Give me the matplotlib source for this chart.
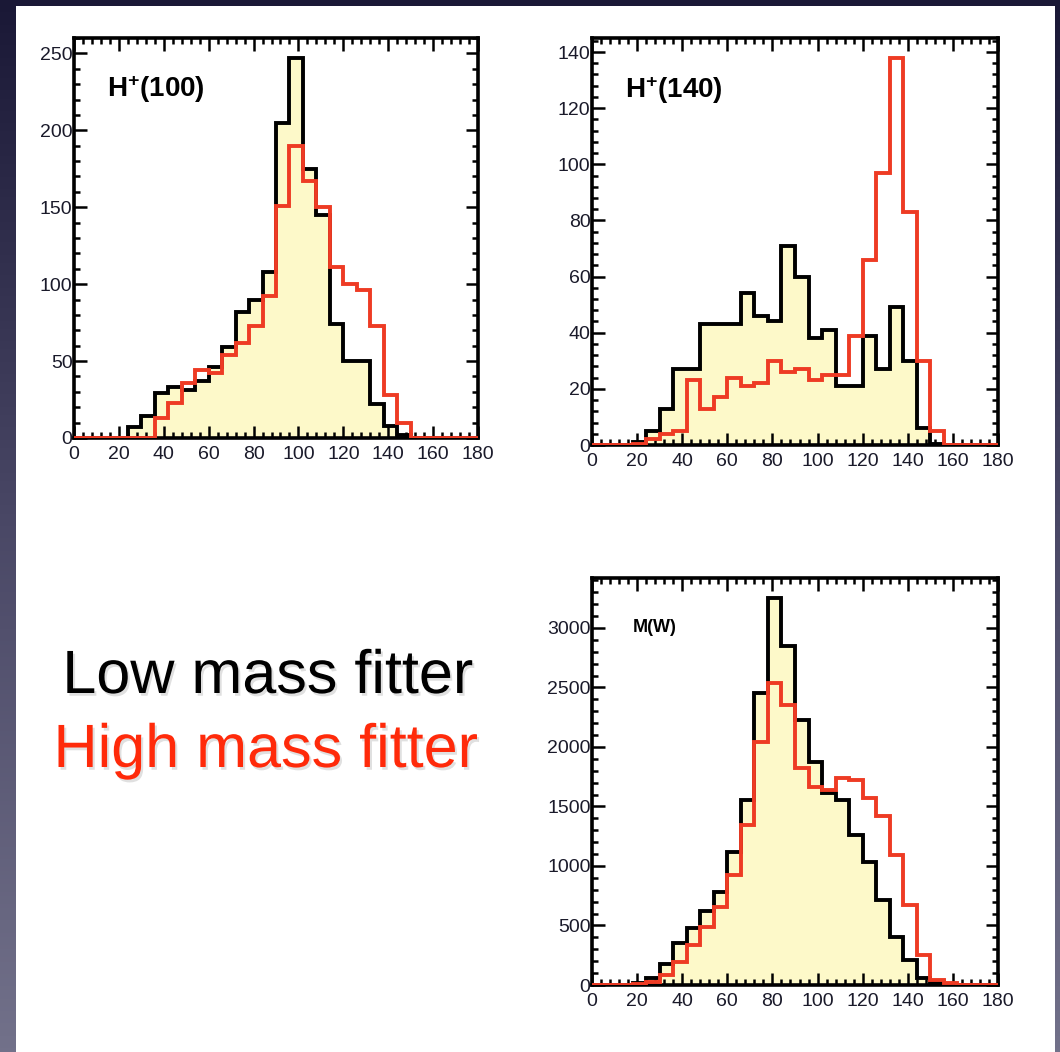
import numpy as np
import matplotlib
matplotlib.use("Agg")
import matplotlib.pyplot as plt
import matplotlib.patheffects as pe
from matplotlib.patches import Rectangle
from matplotlib.ticker import MultipleLocator, AutoMinorLocator

plt.rcParams['font.family'] = ['Liberation Sans', 'DejaVu Sans']
plt.rcParams['mathtext.fontset'] = 'custom'
plt.rcParams['mathtext.rm'] = 'Liberation Sans'
plt.rcParams['mathtext.bf'] = 'Liberation Sans:bold'

# 30 bins of 6 GeV from 0 to 180
edges = np.arange(0, 181, 6)

# H+(100): low mass fitter (black, filled) / high mass fitter (red)
h100_low = [0, 0, 0, 0, 7, 14, 29, 33, 31, 37, 46, 59, 82, 90, 108,
            205, 247, 175, 145, 74, 50, 50, 22, 8, 2, 0, 0, 0, 0, 0]
h100_high = [0, 0, 0, 0, 0, 0, 13, 23, 36, 44, 42, 54, 62, 73, 92,
             151, 190, 167, 150, 111, 100, 96, 73, 28, 10, 0, 0, 0, 0, 0]

# H+(140)
h140_low = [0, 0, 0, 1, 5, 13, 27, 27, 43, 43, 43, 54, 46, 44, 71,
            60, 38, 41, 21, 21, 39, 27, 49, 30, 6, 0.5, 0, 0, 0, 0]
h140_high = [0, 0, 0, 0.5, 2, 4, 5, 23, 13, 17, 24, 21, 22, 30, 26,
             27, 23, 25, 25, 39, 66, 97, 138, 83, 30, 5, 0, 0, 0, 0]

# M(W)
mw_low = [0, 0, 0, 20, 56, 180, 350, 477, 622, 785, 1121, 1556, 2453, 3252, 2851,
          2229, 1870, 1612, 1556, 1262, 1037, 715, 407, 210, 56, 14, 0, 0, 0, 0]
mw_high = [0, 0, 0, 8, 28, 84, 196, 336, 490, 659, 925, 1346, 2046, 2537, 2355,
           1822, 1662, 1640, 1738, 1724, 1570, 1416, 1093, 673, 252, 42, 14, 0, 0, 0]

W, H = 1060, 1052
fig = plt.figure(figsize=(W / 100, H / 100), dpi=100)

# slide background: dark gradient with a white page on top
bg = fig.add_axes([0, 0, 1, 1], zorder=-10)
grad = np.linspace(0, 1, 256).reshape(-1, 1)
cmap = matplotlib.colors.LinearSegmentedColormap.from_list("slide", ["#1a1836", "#4a4866", "#72718a"])
bg.imshow(grad, aspect="auto", cmap=cmap, extent=[0, 1, 0, 1], origin="upper")
bg.add_patch(Rectangle((16 / W, 0), (1055 - 16) / W, (H - 6) / H, transform=bg.transAxes,
                       facecolor="white", edgecolor="none"))
bg.set_xlim(0, 1)
bg.set_ylim(0, 1)
bg.axis("off")


def px_axes(x0, y0, x1, y1):
    return fig.add_axes([x0 / W, 1 - y1 / H, (x1 - x0) / W, (y1 - y0) / H])


def draw_panel(ax, low, high, ymax, ymajor, label, label_size, label_pos):
    ax.stairs(low, edges, fill=True, color="#fdf9c9", zorder=1)
    ax.stairs(low, edges, color="black", linewidth=2.8, zorder=2)
    ax.stairs(high, edges, color="#ee3b24", linewidth=2.8, zorder=3)
    ax.set_xlim(0, 180)
    ax.set_ylim(0, ymax)
    ax.xaxis.set_major_locator(MultipleLocator(20))
    ax.xaxis.set_minor_locator(AutoMinorLocator(5))
    ax.yaxis.set_major_locator(MultipleLocator(ymajor))
    ax.yaxis.set_minor_locator(AutoMinorLocator(5))
    ax.tick_params(which="both", direction="in", top=True, right=True, width=1.8,
                   colors="black", labelcolor="#1a1a2a", labelsize=14)
    ax.tick_params(which="major", length=9)
    ax.tick_params(which="minor", length=4.5)
    ax.tick_params(axis="y", pad=1)
    ax.tick_params(axis="x", pad=6)
    for s in ax.spines.values():
        s.set_linewidth(2.6)
    ax.text(label_pos[0], label_pos[1], label, transform=ax.transAxes,
            fontsize=label_size, ha="left", va="baseline", zorder=5)


ax1 = px_axes(74, 38, 478, 438)
draw_panel(ax1, h100_low, h100_high, 260, 50, r"$\mathbf{H^{+}(100)}$", 20, (0.082, 0.853))

ax2 = px_axes(592, 38, 998, 445)
draw_panel(ax2, h140_low, h140_high, 145, 20, r"$\mathbf{H^{+}(140)}$", 20, (0.081, 0.853))

ax3 = px_axes(592, 578, 998, 985)
draw_panel(ax3, mw_low, mw_high, 3420, 500, "M(W)", 13, (0.10, 0.867))
ax3.texts[0].set_fontweight("bold")

shadow = [pe.withSimplePatchShadow(offset=(1.5, -2), shadow_rgbFace="black", alpha=0.12)]
fig.text(268 / W, 1 - 693 / H, "Low mass fitter", color="black", fontsize=44,
         ha="center", va="baseline", path_effects=shadow)
fig.text(266 / W, 1 - 767 / H, "High mass fitter", color="#ff2a0a", fontsize=44,
         ha="center", va="baseline", path_effects=shadow)

fig.savefig("out.png", dpi=100)
